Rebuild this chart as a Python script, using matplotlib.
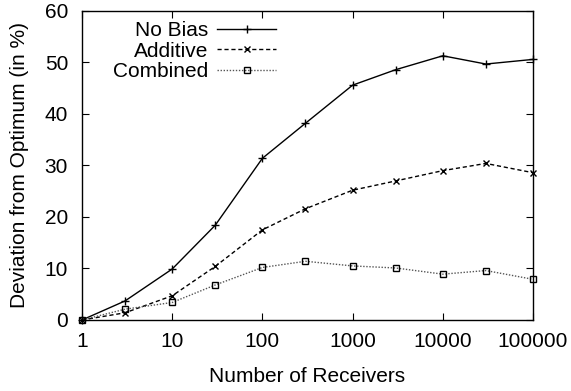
import numpy as np
import matplotlib.pyplot as plt

plt.rcParams['font.family'] = ['Liberation Sans', 'DejaVu Sans']

receivers = [1, 3, 10, 30, 100, 300, 1000, 3000, 10000, 30000, 100000]
no_bias = [0.0, 3.7, 9.9, 18.4, 31.4, 38.2, 45.6, 48.6, 51.3, 49.7, 50.6]
additive = [0.0, 1.4, 4.7, 10.4, 17.5, 21.6, 25.2, 27.0, 29.0, 30.4, 28.6]
combined = [0.0, 2.1, 3.4, 6.8, 10.2, 11.4, 10.5, 10.1, 8.9, 9.6, 7.9]

xticks = [1, 10, 100, 1000, 10000, 100000]
yticks = [0, 10, 20, 30, 40, 50, 60]

fs = 15

fig = plt.figure(figsize=(5.71, 3.91), dpi=100)
ax = fig.add_axes([0.1436, 0.1816, 0.7899, 0.7903])

ax.plot(receivers, no_bias, color='black', lw=1.0, ls='-', marker='+',
        ms=6, mew=1.0, label='No Bias', clip_on=False)
ax.plot(receivers, additive, color='black', lw=1.0, ls=(0, (3, 2)), marker='x',
        ms=5, mew=1.0, label='Additive', clip_on=False)
ax.plot(receivers, combined, color='#555555', lw=1.0, ls=(0, (1, 1.2)), marker='s',
        ms=5, mew=1.0, mfc='none', mec='black', label='Combined', clip_on=False)

ax.set_xscale('log')
ax.set_xlim(1, 100000)
ax.set_ylim(0, 60)
ax.set_xticks(xticks)
ax.set_xticklabels([str(t) for t in xticks])
ax.xaxis.set_minor_locator(plt.NullLocator())
ax.set_yticks(yticks)
ax.tick_params(direction='in', length=5, width=0.8, top=True, right=True,
               labelsize=fs)
ax.tick_params(axis='x', pad=9)
ax.tick_params(axis='y', pad=10)
for s in ax.spines.values():
    s.set_linewidth(1.0)

ax.set_xlabel('Number of Receivers', fontsize=fs, labelpad=11)
ax.set_ylabel('Deviation from Optimum (in %)', fontsize=fs, labelpad=11)

# gnuplot-style key: labels right-aligned, samples on the right
ax.legend(loc='upper right', markerfirst=False, frameon=False, fontsize=fs,
          handlelength=2.83, handletextpad=0.43, labelspacing=0.08,
          borderpad=0, borderaxespad=0,
          bbox_to_anchor=(276 / 571, 1 - 21 / 391),
          bbox_transform=fig.transFigure)

fig.savefig('out.png', dpi=100)
